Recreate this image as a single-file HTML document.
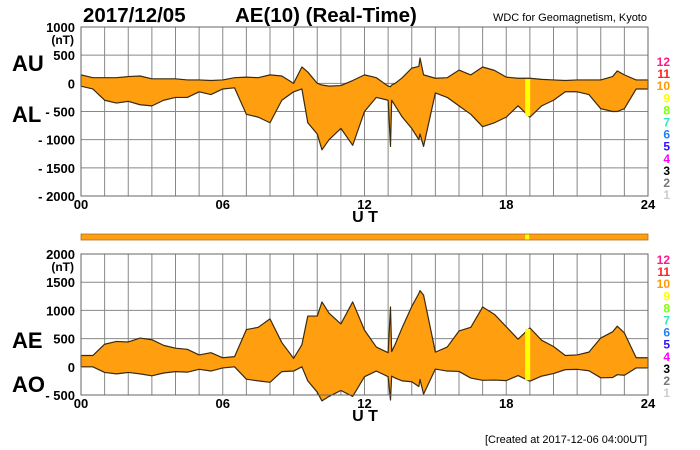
<!DOCTYPE html>
<html><head><meta charset="utf-8"><style>
html,body{margin:0;padding:0;background:#fff;}
svg{display:block;font-family:"Liberation Sans",sans-serif;}
</style></head><body>
<svg id="c" width="700" height="450">
</svg>
<script>
const hours=[0,0.5,1,1.5,2,2.5,3,3.5,4,4.5,5,5.5,6,6.5,7,7.5,8,8.5,9,9.35,9.6,10,10.2,10.5,11,11.5,12,12.5,13,13.1,13.15,13.3,13.6,14,14.3,14.35,14.5,15,15.5,16,16.5,17,17.5,18,18.5,19,19.5,20,20.5,21,21.5,22,22.5,22.7,23,23.5,24];
const auValues=[150,100,100,100,120,130,80,80,80,60,60,50,60,100,110,100,150,130,0,290,200,0,-30,-50,-40,50,150,100,-50,-60,-30,0,100,270,300,450,150,90,100,235,150,290,230,110,90,90,70,60,50,60,60,60,120,220,150,60,60];
const alValues=[-50,-100,-300,-350,-320,-380,-400,-300,-250,-250,-150,-200,-100,-80,-550,-600,-700,-300,-150,-100,-700,-900,-1180,-1000,-800,-1100,-500,-250,-300,-1120,-300,-400,-600,-800,-1000,-900,-1120,-170,-250,-400,-550,-770,-700,-600,-400,-600,-400,-300,-150,-150,-200,-450,-500,-500,-450,-100,-100];
const yTicksTop=["1000","500","0","- 500","- 1000","- 1500","- 2000"];
const yTickValsTop=[1000,500,0,-500,-1000,-1500,-2000];
const yTicksBot=["2000","1500","1000","500","0","- 500"];
const yTickValsBot=[2000,1500,1000,500,0,-500];
const xTicks=["00","06","12","18","24"];
const xTickVals=[0,6,12,18,24];
const legendNums=["12","11","10","9","8","7","6","5","4","3","2","1"];
const legendColors=["#ff1a8c","#ff2020","#ff9900","#ffff00","#80ff00","#30e8c0","#1e80ff","#3010ff","#ff00ff","#000","#777","#ccc"];
const yellowStripes=[18.8];

const NS="http://www.w3.org/2000/svg";
const svg=document.getElementById('c');
function mk(t,a,p){const e=document.createElementNS(NS,t);for(const k in a)e.setAttribute(k,a[k]);(p||svg).appendChild(e);return e;}
const X0=81,X1=648;
const xs=h=>X0+(X1-X0)*h/24;
const topY=v=>27+(1000-v)*(169/3000);
const botY=v=>254+(2000-v)*(141/2500);

function grid(yf,vals,top,bot,name){
  const g=mk('g',{});
  
  
  for(let h=0;h<=24;h++)mk('line',{x1:xs(h),x2:xs(h),y1:top,y2:bot,stroke:'#888','stroke-width':1},g);
  vals.forEach(v=>mk('line',{x1:X0,x2:X1,y1:yf(v),y2:yf(v),stroke:'#888','stroke-width':1},g));
}
function area(upper,lower,yf,name){
  let d='M'+hours.map((h,i)=>xs(h)+','+yf(upper[i])).join('L');
  for(let i=hours.length-1;i>=0;i--)d+='L'+xs(hours[i])+','+yf(lower[i]);
  d+='Z';
  const p=mk('path',{d:d,fill:'#ff9f10',stroke:'#3a2a10','stroke-width':1.2,'stroke-linejoin':'round'});
  
  
  yellowStripes.forEach(h=>{
    const i=hours.findIndex(t=>t>=h);
    const r=mk('rect',{x:xs(h),width:5,y:yf(upper[i])+1,height:Math.max(0,yf(lower[i])-yf(upper[i])-2),fill:'#ffff00'});
    
    
  });
}
function yLabels(yf,vals,labels,name){
  vals.forEach((v,i)=>{
    const t=mk('text',{x:75,y:yf(v)+5,'text-anchor':'end','font-size':13,'font-weight':'bold'});
    t.textContent=labels[i];
    
    
  });
}
function xLabels(y,name){
  xTickVals.forEach((h,i)=>{
    const t=mk('text',{x:xs(h),y:y,'text-anchor':'middle','font-size':13,'font-weight':'bold'});
    t.textContent=xTicks[i];
    
    
  });
}
function legend(y0,name){
  legendNums.forEach((n,i)=>{
    const t=mk('text',{x:670,y:y0+i*12.1,'text-anchor':'end','font-size':12,'font-weight':'bold',fill:legendColors[i]});
    t.textContent=n;
    
    
  });
}
function txt(x,y,s,size,anchor,name,weight){
  const t=mk('text',{x:x,y:y,'font-size':size,'text-anchor':anchor||'start','font-weight':weight||'bold'});
  t.textContent=s;
  
  
}

grid(topY,yTickValsTop,27,196,'top-grid');
area(auValues,alValues,topY,'au-al-area');
mk('rect',{x:X0,y:27,width:X1-X0,height:169,fill:'none',stroke:'#666'});
yLabels(topY,yTickValsTop,yTicksTop,'top-y-tick');
txt(74,44,'(nT)',12,'end','top-y-unit');
xLabels(209,'top-x-tick');
txt(365,222,'U T',16,'middle','top-x-title');
txt(12,71,'AU',22,'start','au-label');
txt(12,122,'AL',22,'start','al-label');
legend(66,'top-legend-number');

txt(83,22,'2017/12/05',20.5,'start','date-title');
txt(235,22,'AE(10) (Real-Time)',20.5,'start','chart-title');
txt(647,21,'WDC for Geomagnetism, Kyoto',11,'end','source-label','normal');

const bar=mk('rect',{x:X0,y:234,width:X1-X0,height:6,fill:'#ff9f10',stroke:'#b07020','stroke-width':0.8});


yellowStripes.forEach(h=>{const r=mk('rect',{x:xs(h),y:234.5,width:4,height:5,fill:'#ffff00'});

});

const aeValues=auValues.map((u,i)=>u-alValues[i]);
const aoValues=auValues.map((u,i)=>(u+alValues[i])/2);
grid(botY,yTickValsBot,254,395,'bottom-grid');
area(aeValues,aoValues.map((o,i)=>Math.min(o,0)),botY,'ae-ao-area');
mk('rect',{x:X0,y:254,width:X1-X0,height:141,fill:'none',stroke:'#666'});
yLabels(botY,yTickValsBot,yTicksBot,'bottom-y-tick');
txt(74,271,'(nT)',12,'end','bottom-y-unit');
xLabels(408,'bottom-x-tick');
txt(365,421,'U T',16,'middle','bottom-x-title');
txt(12,348,'AE',22,'start','ae-label');
txt(12,392,'AO',22,'start','ao-label');
legend(264,'bottom-legend-number');

txt(647,443,'[Created at 2017-12-06 04:00UT]',11,'end','created-note','normal');
</script>
</body></html>
